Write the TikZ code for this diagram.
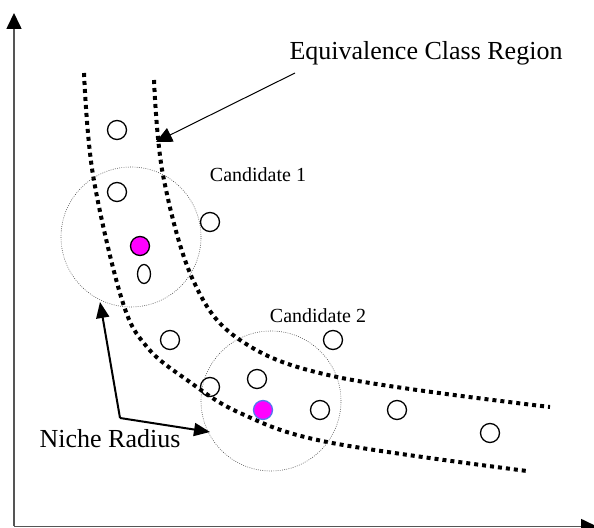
\documentclass[tikz,border=0pt]{standalone}
\usepackage{fontspec}
\setmainfont{Liberation Serif}
\usetikzlibrary{arrows.meta,shapes.geometric}
\definecolor{axisgray}{HTML}{555555}
\definecolor{magentafill}{HTML}{FF00FF}
\definecolor{blueedge}{HTML}{5577EE}
\tikzset{
  pt/.style={circle, draw, line width=0.65pt, minimum size=9.5pt, inner sep=0pt},
  ptfill/.style={pt, fill=magentafill},
  bandline/.style={line width=2pt, dash pattern=on 2pt off 2pt},
  nichecircle/.style={draw, line width=0.3pt, dash pattern=on 0.4pt off 0.7pt, gray!60!black},
  axis/.style={line width=0.8pt, draw=axisgray, -{Triangle[length=8pt,width=7.5pt,color=black]}},
  bigtext/.style={font=\fontsize{13}{15}\selectfont},
  smalltext/.style={font=\fontsize{10}{12}\selectfont},
  nicheArrow/.style={line width=1pt, -{Triangle[length=8pt,width=6.5pt]}},
  eqArrow/.style={line width=0.5pt, -{Triangle[length=8pt,width=7.5pt]}}
}
\begin{document}
\begin{tikzpicture}[x=0.5pt,y=-0.5pt]
\useasboundingbox (0,0) rectangle (594,528);
% axes
\coordinate (origin) at (14,526.5);
\coordinate (ytop) at (14,13);
\coordinate (xend) at (597,526.5);
\draw[axis] (origin) -- (ytop);
\draw[axis] (origin) -- (xend);
% band curves
\draw[bandline] plot[smooth, tension=0.6] coordinates {(154,80) (163,175) (193,280) (240,340) (337,377) (550,407)};
\draw[bandline] plot[smooth, tension=0.6] coordinates {(84,73) (93,175) (122,300) (147,347) (187,380) (240,413) (327,442) (527,471)};
% niche circles
\node[nichecircle, circle, minimum size=70pt, inner sep=0pt] (c1) at (131,237) {};
\node[nichecircle, circle, minimum size=70pt, inner sep=0pt] (c2) at (271,401) {};
% points
\node[pt] (p1) at (117,130) {};
\node[pt] (p2) at (117,192) {};
\node[pt] (p3) at (210,222) {};
\node[ptfill] (best1) at (140,246) {};
\node[draw, ellipse, line width=0.65pt, minimum width=6.5pt, minimum height=9.5pt, inner sep=0pt] (p4) at (144,274) {};
\node[pt] (p5) at (170,340) {};
\node[pt] (p6) at (210,387) {};
\node[pt] (p7) at (257,379) {};
\node[ptfill, draw=blueedge] (best2) at (263,410) {};
\node[pt] (p8) at (320,410) {};
\node[pt] (p9) at (333,340) {};
\node[pt] (p10) at (397,410) {};
\node[pt] (p11) at (490,433) {};
% labels
\node[bigtext, anchor=base] (eq) at (426,60) {Equivalence Class Region};
\node[smalltext, anchor=base] (cand1) at (258,182) {Candidate 1};
\node[smalltext, anchor=base] (cand2) at (318,323) {Candidate 2};
\node[bigtext, anchor=base] (niche) at (110,448) {Niche Radius};
% arrows
\coordinate (eqstart) at (295,73);
\coordinate (eqtip) at (156,142);
\draw[eqArrow] (eqstart) -- (eqtip);
\coordinate (nr) at (120,418);
\coordinate (nrtip1) at (100,302);
\coordinate (nrtip2) at (210,432);
\draw[nicheArrow] (nr) -- (nrtip1);
\draw[nicheArrow] (nr) -- (nrtip2);
\end{tikzpicture}
\end{document}
